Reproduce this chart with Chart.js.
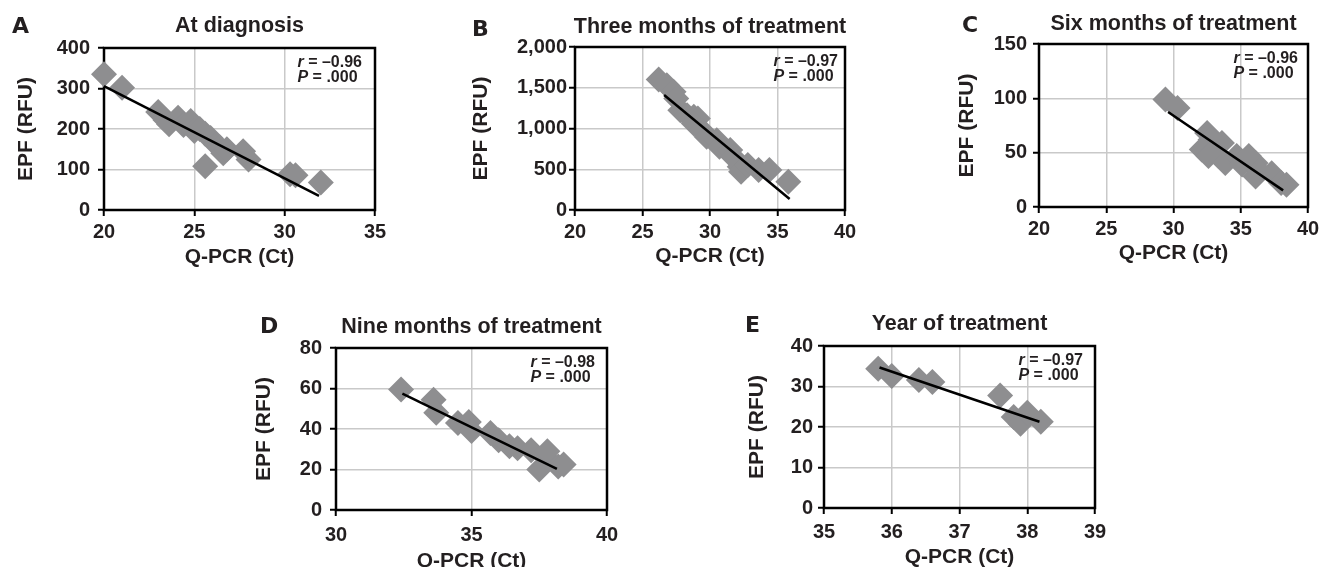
<!DOCTYPE html>
<html>
<head>
<meta charset="utf-8">
<script src="https://cdn.jsdelivr.net/npm/chart.js@4/dist/chart.umd.min.js"></script>
<style>
  html, body { margin: 0; padding: 0; background: #fff; overflow: hidden; }
  .panel { position: absolute; }
</style>
</head>
<body>
<div class="panel" id="wrapA"><canvas id="chartA"></canvas></div>
<div class="panel" id="wrapB"><canvas id="chartB"></canvas></div>
<div class="panel" id="wrapC"><canvas id="chartC"></canvas></div>
<div class="panel" id="wrapD"><canvas id="chartD"></canvas></div>
<div class="panel" id="wrapE"><canvas id="chartE"></canvas></div>
<script>
// Dados (Q-PCR Ct x EPF RFU)
const diagCt  = [20.0, 21.0, 23.0, 23.4, 23.6, 24.1, 24.4, 24.8, 25.0, 25.3, 25.6, 25.9, 26.2, 26.4, 26.6, 26.8, 27.7, 28.0, 25.6, 30.3, 30.6, 32.0];
const diagEpf = [335, 302, 242, 222, 212, 228, 210, 220, 195, 200, 188, 178, 162, 155, 140, 150, 145, 125, 108, 88, 86, 68];
const diagFitX = [20, 31.9];
const diagFitY = [306, 35];

const m3Ct  = [26.2, 26.8, 27.3, 27.5, 27.8, 28.3, 28.8, 29.1, 28.8, 29.4, 29.75, 30.5, 30.7, 31.5, 31.7, 32.2, 32.3, 32.8, 33.6, 34.4, 35.8];
const m3Epf = [1600, 1530, 1450, 1367, 1224, 1163, 1143, 1122, 1061, 980, 898, 857, 776, 735, 653, 530, 470, 551, 490, 490, 347];
const m3FitX = [26.6, 35.9];
const m3FitY = [1410, 135];

const m6Ct  = [29.4, 30.3, 32.5, 32.75, 32.1, 32.6, 33.35, 33.85, 34.7, 35.1, 35.6, 36.1, 36.4, 36.1, 37.3, 38.0, 38.4, 33.6];
const m6Epf = [99, 91, 68, 62, 53, 47, 47, 40.5, 47, 39, 47, 40.5, 33, 28, 31, 22, 20.5, 59];
const m6FitX = [29.6, 38.15];
const m6FitY = [87.5, 15.3];

const m9Ct  = [32.4, 33.6, 33.7, 34.5, 34.9, 35.0, 35.7, 36.0, 36.4, 36.7, 37.2, 37.7, 37.8, 37.5, 38.2, 38.4];
const m9Epf = [59.5, 54.5, 48, 43, 43.5, 39, 38, 34.5, 31.5, 30.5, 29.5, 26.5, 29, 20, 21.5, 22.5];
const m9FitX = [32.45, 38.15];
const m9FitY = [57.5, 20.3];

const y1Ct  = [35.8, 36.0, 36.4, 36.6, 37.6, 37.8, 37.9, 38.0, 38.2];
const y1Epf = [34.4, 32.6, 31.6, 31.1, 27.8, 22.5, 20.8, 23.5, 21.3];
const y1FitX = [35.82, 38.18];
const y1FitY = [34.7, 21.3];

const xTicksA = [20, 25, 30, 35];
const yTicksA = [0, 100, 200, 300, 400];
const xTicksB = [20, 25, 30, 35, 40];
const yTicksB = [0, 500, 1000, 1500, 2000];
const xTicksC = [20, 25, 30, 35, 40];
const yTicksC = [0, 50, 100, 150];
const xTicksD = [30, 35, 40];
const yTicksD = [0, 20, 40, 60, 80];
const xTicksE = [35, 36, 37, 38, 39];
const yTicksE = [0, 10, 20, 30, 40];

const letters = ['A', 'B', 'C', 'D', 'E'];
const titles = ['At diagnosis', 'Three months of treatment', 'Six months of treatment', 'Nine months of treatment', 'Year of treatment'];
const rValues = ['\u20130.96', '\u20130.97', '\u20130.96', '\u20130.98', '\u20130.97'];
const pValues = ['.000', '.000', '.000', '.000', '.000'];

const TEXT = '#231f20';
const GRID = '#c9c9c9';
const MARK = '#8e8e90';
const FONT = '"Liberation Sans", Arial, Helvetica, sans-serif';

Chart.defaults.font.family = FONT;
Chart.defaults.color = TEXT;

function toPoints(xs, ys) {
    return xs.map((x, i) => ({ x, y: ys[i] }));
}

// desenha letra, título, moldura e r/P
const decoPlugin = {
    id: 'deco',
    beforeDatasetsDraw(chart) {
        const { ctx, chartArea: a } = chart;
        ctx.save();
        ctx.strokeStyle = '#000';
        ctx.lineWidth = 2.5;
        ctx.strokeRect(a.left, a.top, a.right - a.left, a.bottom - a.top);
        ctx.restore();
    },
    afterDraw(chart) {
        const p = chart.options.plugins.deco;
        const { ctx, chartArea: a } = chart;
        ctx.save();
        ctx.fillStyle = TEXT;
        ctx.textBaseline = 'middle';
        ctx.font = 'bold 22px "DejaVu Sans", ' + FONT;
        ctx.textAlign = 'left';
        ctx.fillText(p.letter, p.letterX, p.letterY);

        ctx.font = 'bold 21.5px ' + FONT;
        ctx.textAlign = 'center';
        ctx.fillText(p.title, (a.left + a.right) / 2, p.titleY);

        // r = ..., P = ...
        const fIt = 'italic bold 16px ' + FONT;
        const fN = 'bold 16px ' + FONT;
        const l1a = 'r', l1b = ' = ' + p.r;
        const l2a = 'P', l2b = ' = ' + p.p;
        ctx.font = fIt; const w1a = ctx.measureText(l1a).width; const w2a = ctx.measureText(l2a).width;
        ctx.font = fN; const w1b = ctx.measureText(l1b).width; const w2b = ctx.measureText(l2b).width;
        const wMax = Math.max(w1a + w1b, w2a + w2b);
        const x0 = a.right - p.textR - wMax;
        ctx.textAlign = 'left';
        ctx.font = fIt; ctx.fillText(l1a, x0, a.top + 15);
        ctx.font = fN; ctx.fillText(l1b, x0 + w1a, a.top + 15);
        ctx.font = fIt; ctx.fillText(l2a, x0, a.top + 30);
        ctx.font = fN; ctx.fillText(l2b, x0 + w2a, a.top + 30);
        ctx.restore();
    }
};

function makePanel(cfg) {
    const wrap = document.getElementById(cfg.wrap);
    wrap.style.left = cfg.left + 'px';
    wrap.style.top = cfg.top + 'px';
    wrap.style.width = cfg.width + 'px';
    wrap.style.height = cfg.height + 'px';

    const ctx = document.getElementById(cfg.canvas).getContext('2d');
    return new Chart(ctx, {
        type: 'scatter',
        data: {
            datasets: [
                {
                    type: 'line',
                    data: toPoints(cfg.fitX, cfg.fitY),
                    borderColor: '#000',
                    borderWidth: 2.5,
                    pointRadius: 0,
                    fill: false,
                    clip: false,
                    order: 0
                },
                {
                    data: toPoints(cfg.xs, cfg.ys),
                    pointStyle: 'rectRot',
                    pointRadius: 13,
                    pointHoverRadius: 13,
                    backgroundColor: MARK,
                    borderWidth: 0,
                    clip: false,
                    order: 1
                }
            ]
        },
        options: {
            responsive: true,
            maintainAspectRatio: false,
            animation: false,
            events: [],
            layout: { padding: { left: cfg.padL, top: cfg.padTop, right: cfg.padR, bottom: 0 } },
            plugins: {
                legend: { display: false },
                tooltip: { enabled: false },
                deco: {
                    letter: cfg.letter, title: cfg.title, r: cfg.r, p: cfg.p,
                    letterX: cfg.letterX, letterY: cfg.letterY, titleY: cfg.titleY, textR: cfg.textR
                }
            },
            scales: {
                x: {
                    type: 'linear',
                    min: cfg.xTicks[0],
                    max: cfg.xTicks[cfg.xTicks.length - 1],
                    afterBuildTicks: s => { s.ticks = cfg.xTicks.map(v => ({ value: v })); },
                    afterFit: s => { s.height = cfg.xH; s.paddingLeft = 0; s.paddingRight = 0; },
                    ticks: { font: { size: 20, weight: 'bold' }, color: TEXT, padding: cfg.xPad, maxRotation: 0 },
                    grid: { color: GRID, lineWidth: 1.5, tickColor: '#000', tickLength: 6, tickWidth: 2 },
                    border: { display: false },
                    title: { display: true, text: 'Q-PCR (Ct)', font: { size: 21, weight: 'bold', lineHeight: 1.2 }, color: TEXT, padding: 0 }
                },
                y: {
                    type: 'linear',
                    min: cfg.yTicks[0],
                    max: cfg.yTicks[cfg.yTicks.length - 1],
                    afterBuildTicks: s => { s.ticks = cfg.yTicks.map(v => ({ value: v })); },
                    afterFit: s => { s.width = cfg.yW; s.paddingTop = 0; s.paddingBottom = 0; },
                    ticks: {
                        font: { size: 20, weight: 'bold' }, color: TEXT, padding: cfg.yPad,
                        callback: v => v.toLocaleString('en-US')
                    },
                    grid: { color: GRID, lineWidth: 1.5, tickColor: '#000', tickLength: 6, tickWidth: 2 },
                    border: { display: false },
                    title: { display: true, text: 'EPF (RFU)', font: { size: 21, weight: 'bold', lineHeight: 1.2 }, color: TEXT, padding: 0 }
                }
            }
        },
        plugins: [decoPlugin]
    });
}

makePanel({
    wrap: 'wrapA', canvas: 'chartA', left: 0, top: 0, width: 390, height: 270,
    padL: 14, padTop: 48, padR: 15, yW: 90, xH: 60, xPad: 4, yPad: 8,
    letterX: 12, letterY: 27, titleY: 26, textR: 13,
    letter: letters[0], title: titles[0], r: rValues[0], p: pValues[0],
    xs: diagCt, ys: diagEpf, fitX: diagFitX, fitY: diagFitY, xTicks: xTicksA, yTicks: yTicksA
});
makePanel({
    wrap: 'wrapB', canvas: 'chartB', left: 460, top: 0, width: 400, height: 269,
    padL: 9, padTop: 47, padR: 15, yW: 106, xH: 59, xPad: 4, yPad: 2,
    letterX: 12, letterY: 30, titleY: 27, textR: 7,
    letter: letters[1], title: titles[1], r: rValues[1], p: pValues[1],
    xs: m3Ct, ys: m3Epf, fitX: m3FitX, fitY: m3FitY, xTicks: xTicksB, yTicks: yTicksB
});
makePanel({
    wrap: 'wrapC', canvas: 'chartC', left: 950, top: 0, width: 371, height: 266,
    padL: 5, padTop: 44, padR: 11, yW: 84, xH: 59, xPad: 4, yPad: 6,
    letterX: 12, letterY: 26, titleY: 24, textR: 10,
    letter: letters[2], title: titles[2], r: rValues[2], p: pValues[2],
    xs: m6Ct, ys: m6Epf, fitX: m6FitX, fitY: m6FitY, xTicks: xTicksC, yTicks: yTicksC
});
makePanel({
    wrap: 'wrapD', canvas: 'chartD', left: 250, top: 300, width: 375, height: 274,
    padL: 2, padTop: 48, padR: 18, yW: 84, xH: 64, xPad: 7, yPad: 8,
    letterX: 10, letterY: 27, titleY: 27, textR: 12,
    letter: letters[3], title: titles[3], r: rValues[3], p: pValues[3],
    xs: m9Ct, ys: m9Epf, fitX: m9FitX, fitY: m9FitY, xTicks: xTicksD, yTicks: yTicksD
});
makePanel({
    wrap: 'wrapE', canvas: 'chartE', left: 740, top: 300, width: 370, height: 270,
    padL: 5, padTop: 46, padR: 15, yW: 79, xH: 62, xPad: 6, yPad: 5,
    letterX: 5, letterY: 26, titleY: 24, textR: 12,
    letter: letters[4], title: titles[4], r: rValues[4], p: pValues[4],
    xs: y1Ct, ys: y1Epf, fitX: y1FitX, fitY: y1FitY, xTicks: xTicksE, yTicks: yTicksE
});
</script>
</body>
</html>
